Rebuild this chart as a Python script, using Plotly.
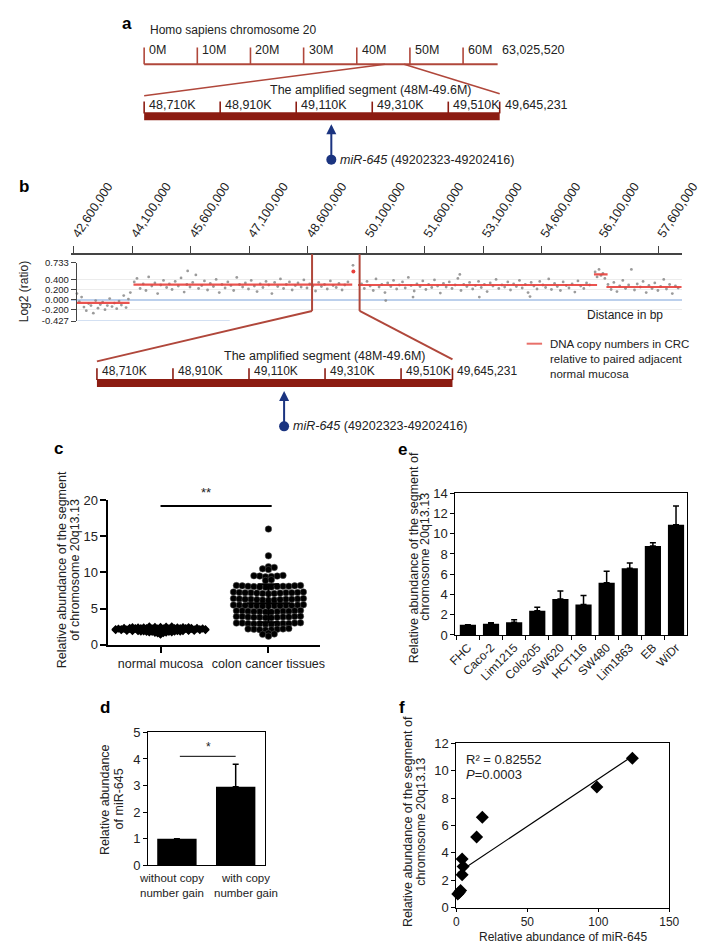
import plotly.graph_objects as go
import numpy as np

W, H = 713, 943
FONT = "Liberation Sans, Arial, Helvetica, sans-serif"
TXT = "#222222"
RULER = "#b0473b"
BAR = "#8c1c12"
NAVY = "#1b3480"

# ---------------- Panel a / b schematic data ----------------
chrom_tick_pos = [0, 10_000_000, 20_000_000, 30_000_000, 40_000_000, 50_000_000, 60_000_000]
chrom_tick_lab = ["0M", "10M", "20M", "30M", "40M", "50M", "60M"]
chrom_len_label = "63,025,520"
chrom_draw_end = 66_500_000          # the drawn ruler runs a little past 60M
chrom_zoom_from = [45_300_000, 48_900_000]

seg_tick_pos = [48_710_000, 48_910_000, 49_110_000, 49_310_000, 49_510_000, 49_645_231]
seg_tick_lab = ["48,710K", "48,910K", "49,110K", "49,310K", "49,510K", "49,645,231"]
seg_title = "The amplified segment (48M-49.6M)"
mir_pos = 49_202_323
mir_label = "<i>miR-645</i> (49202323-49202416)"

# ---------------- Panel b data ----------------
b_tick_mb = [42.6, 44.1, 45.6, 47.1, 48.6, 50.1, 51.6, 53.1, 54.6, 56.1, 57.6]
b_tick_lab = ["42,600,000", "44,100,000", "45,600,000", "47,100,000", "48,600,000",
              "50,100,000", "51,600,000", "53,100,000", "54,600,000", "56,100,000", "57,600,000"]
b_ratio_ticks = [0.733, 0.4, 0.2, 0.0, -0.2, -0.427]
b_ratio_lab = ["0.733", "0.400", "0.200", "0.000", "-0.200", "-0.427"]

b_probe_mb = [
    42.68, 42.74, 42.80, 42.86, 42.92, 42.98, 43.04, 43.10, 43.16, 43.22, 43.28, 43.34,
    43.40, 43.46, 43.52, 43.58, 43.64, 43.70, 43.76, 43.82, 43.88, 43.94, 44.00, 44.05,
    44.15, 44.22, 44.30, 44.38, 44.45, 44.52, 44.60, 44.68, 44.75, 44.83, 44.90, 44.98,
    45.05, 45.12, 45.20, 45.28, 45.35, 45.43, 45.50, 45.52, 45.58, 45.65, 45.73, 45.80,
    45.88, 45.95, 46.03, 46.10, 46.18, 46.25, 46.33, 46.40, 46.48, 46.55, 46.63, 46.70,
    46.78, 46.85, 46.93, 47.00, 47.08, 47.15, 47.23, 47.30, 47.38, 47.45, 47.53, 47.60,
    47.68, 47.75, 47.83, 47.90, 47.98, 48.05, 48.13, 48.20, 48.28, 48.35, 48.43, 48.50,
    48.58, 48.65, 48.73, 48.80, 48.88, 48.95, 49.03, 49.10, 49.18, 49.25, 49.33, 49.40,
    49.48, 49.55, 49.63, 49.76,
    49.98, 50.05, 50.12, 50.20, 50.28, 50.35, 50.43, 50.50, 50.58, 50.60, 50.65, 50.73,
    50.80, 50.88, 50.95, 51.03, 51.10, 51.18, 51.25, 51.30, 51.33, 51.40, 51.48, 51.55,
    51.63, 51.70, 51.78, 51.85, 51.93, 52.00, 52.08, 52.15, 52.23, 52.30, 52.38, 52.45,
    52.50, 52.53, 52.60, 52.68, 52.75, 52.83, 52.90, 52.98, 53.00, 53.05, 53.13, 53.20,
    53.28, 53.35, 53.43, 53.50, 53.58, 53.65, 53.73, 53.80, 53.88, 53.95, 54.03, 54.10,
    54.18, 54.25, 54.30, 54.33, 54.40, 54.48, 54.55, 54.63, 54.70, 54.78, 54.85, 54.93,
    55.00, 55.08, 55.15, 55.23, 55.30, 55.38, 55.45, 55.53, 55.60, 55.68, 55.75, 55.83,
    55.97, 56.02, 56.07, 56.12, 56.17, 56.22,
    56.30, 56.38, 56.45, 56.53, 56.60, 56.68, 56.75, 56.83, 56.90, 56.98, 57.05, 57.13,
    57.20, 57.28, 57.35, 57.43, 57.50, 57.58, 57.65, 57.73, 57.80, 57.88, 57.95, 58.03, 58.10,
]
b_probe_ratio = [
    0.12, -0.04, 0.05, -0.15, -0.22, -0.08, -0.12, -0.27, -0.02, -0.17, -0.10, -0.05,
    -0.20, -0.12, 0.02, -0.14, -0.07, -0.18, -0.03, -0.11, 0.08, -0.16, 0.01, 0.14,
    0.35, 0.42, 0.22, 0.31, 0.18, 0.45, 0.27, 0.33, 0.12, 0.29, 0.38, 0.24,
    0.31, 0.20, 0.36, 0.27, 0.43, 0.15, 0.30, 0.57, 0.25, 0.34, 0.49, 0.22,
    0.28, 0.37, 0.19, 0.32, 0.26, 0.40, 0.14, 0.30, 0.23, 0.35, 0.28, 0.18,
    0.44, 0.30, 0.25, 0.33, 0.21, 0.38, 0.27, 0.16, 0.31, 0.24, 0.36, 0.29,
    0.12, 0.34, 0.26, 0.41, 0.22, 0.30, 0.35, 0.19, 0.28, 0.33, 0.25, 0.39,
    0.23, 0.31, 0.27, 0.17, 0.34, 0.26, 0.30, 0.21, 0.37, 0.28, 0.24, 0.32,
    0.19, 0.29, 0.35, 0.68,
    0.31, 0.22, 0.36, 0.27, 0.18, 0.41, 0.25, 0.30, 0.14, -0.02, 0.33, 0.26,
    0.38, 0.21, 0.29, 0.35, 0.23, 0.44, 0.28, 0.05, 0.17, 0.31, 0.26, 0.37,
    0.20, 0.30, 0.24, 0.39, 0.27, 0.13, 0.32, 0.25, 0.35, 0.22, 0.29, 0.42,
    0.50, 0.18, 0.30, 0.26, 0.34, 0.21, 0.28, 0.36, 0.05, 0.24, 0.30, 0.16,
    0.33, 0.27, 0.40, 0.22, 0.29, 0.25, 0.35, 0.19, 0.31, 0.26, 0.38, 0.23,
    0.30, 0.14, 0.06, 0.34, 0.27, 0.21, 0.36, 0.29, 0.24, 0.41, 0.20, 0.32,
    0.26, 0.18, 0.35, 0.28, 0.23, 0.31, 0.15, 0.37, 0.27, 0.22, 0.33, 0.29,
    0.55, 0.45, 0.60, 0.48, 0.52, 0.42,
    0.30, 0.20, 0.34, 0.16, 0.27, 0.38, 0.22, 0.29, 0.60, 0.19, 0.31, 0.25,
    0.36, 0.14, 0.28, 0.22, 0.33, 0.18, 0.26, 0.40, 0.21, 0.30, 0.12, 0.27, 0.23,
]
b_seg_start_mb = [42.67, 44.13, 49.89, 55.94, 56.26]
b_seg_end_mb = [44.03, 49.74, 56.02, 56.29, 58.19]
b_seg_ratio = [-0.065, 0.297, 0.29, 0.50, 0.25]
b_red_mb = [49.77]
b_red_ratio = [0.56]
b_zoom_mb = [48.71, 49.93]
b_legend = "DNA copy numbers in CRC<br>relative to paired adjacent<br>normal mucosa"

# ---------------- Panel c data ----------------
c_groups = ["normal mucosa", "colon cancer tissues"]
c_normal = [
    2.31, 2.05, 1.92, 2.18, 2.44, 1.87, 2.12, 2.27, 1.98, 2.36,
    1.81, 2.09, 2.22, 1.95, 2.41, 2.14, 1.76, 2.03, 2.29, 1.89,
    2.17, 2.47, 1.94, 2.08, 2.33, 1.84, 2.21, 2.01, 1.72, 2.26,
    2.11, 1.97, 2.38, 2.15, 1.86, 2.24, 2.06, 2.52, 1.91, 2.19,
    2.34, 1.79, 2.02, 2.28, 1.96, 2.13, 2.43, 1.83, 2.07, 2.23,
    1.68, 2.16, 2.32, 1.93, 2.04, 2.39, 1.88, 2.25, 2.10, 1.99,
    2.55, 1.82, 2.20, 2.35, 1.95, 2.12, 1.74, 2.27, 2.03, 2.46,
    1.90, 2.17, 2.30, 1.85, 2.08, 2.22, 1.97, 2.40, 1.63, 2.14,
    2.28, 2.01, 1.89, 2.36, 2.19, 1.78, 2.06, 2.24, 1.93, 2.49,
    2.11, 1.58, 2.33, 2.05, 1.87, 2.21, 2.42, 1.98, 2.15, 1.71,
    2.26, 2.09, 1.50, 2.37, 1.92, 2.18, 1.42, 2.02, 2.31, 1.66,
]
c_cancer = [
    16.0, 12.3,
    10.7, 10.5, 10.8, 10.4,
    9.5, 9.6, 9.4, 9.5, 9.55, 9.45,
    8.9, 9.0,
    8.1, 8.0, 8.2, 8.05, 8.15, 8.1, 7.95, 8.2, 8.05, 8.1, 8.0, 8.15,
    7.2, 7.1, 7.3, 7.15, 7.25, 7.2, 7.05, 7.3, 7.1, 7.2, 7.15, 7.25, 7.2,
    6.3, 6.2, 6.4, 6.25, 6.35, 6.3, 6.15, 6.4, 6.3, 6.2, 6.35, 6.25, 6.3,
    5.45, 5.4, 5.5, 5.35, 5.55, 5.45, 5.4, 5.5, 5.45, 5.35, 5.5, 5.4, 5.45,
    4.65, 4.6, 4.7, 4.55, 4.75, 4.65, 4.6, 4.7, 4.65, 4.55, 4.7, 4.6,
    3.85, 3.8, 3.9, 3.75, 3.95, 3.85, 3.8, 3.9, 3.85, 3.75, 3.9, 3.8,
    2.95, 2.9, 3.0, 2.85, 3.05, 2.95, 2.9, 3.0, 2.95, 2.85, 3.0, 2.9,
    2.15, 2.1, 2.2, 2.05, 2.25, 2.15, 2.1, 2.2,
    1.6, 1.5, 1.45, 1.2,
]
c_sig_y = 19.2

# ---------------- Panel d data ----------------
d_groups = ["without copy<br>number gain", "with copy<br>number gain"]
d_values = [1.0, 2.95]
d_err = [0.0, 0.85]
d_sig_y = 4.1

# ---------------- Panel e data ----------------
e_cells = ["FHC", "Caco-2", "Lim1215", "Colo205", "SW620", "HCT116", "SW480", "Lim1863", "EB", "WiDr"]
e_values = [1.0, 1.1, 1.25, 2.4, 3.55, 3.0, 5.15, 6.6, 8.8, 10.9]
e_err = [0.0, 0.12, 0.25, 0.35, 0.8, 0.9, 1.15, 0.5, 0.3, 1.85]

# ---------------- Panel f data ----------------
f_mir = [1.0, 2.0, 3.0, 4.1, 4.1, 4.8, 14.3, 18.3, 99.0, 124.0]
f_seg = e_values
f_r2_text = "R² = 0.82552"
f_p_text = "<i>P</i>=0.0003"


# ---------------- helpers ----------------
def px(x):
    return x / W


def py(y):
    return 1 - y / H


def make_map(v1, p1, v2, p2):
    s = (p2 - p1) / (v2 - v1)
    return lambda v: p1 + (v - v1) * s


def axis_range(v1, p1, v2, p2, d0, d1):
    s = (p2 - p1) / (v2 - v1)
    return [v1 + (d0 - p1) / s, v1 + (d1 - p1) / s]


def vsegs(xs, y0, y1):
    X, Y = [], []
    for x in xs:
        X += [x, x, None]
        Y += [y0, y1, None]
    return X, Y


def swarm_offsets(values, groups_of, spacing):
    offs = [0.0] * len(values)
    for idx in groups_of:
        idx = sorted(idx, key=lambda i: values[i])
        n = len(idx)
        slots = [(k - (n - 1) / 2) * spacing for k in range(n)]
        slots = sorted(slots, key=lambda s: abs(s))
        for j, i in enumerate(idx):
            offs[i] = slots[j]
    return offs


def gap_groups(values, gap):
    order = sorted(range(len(values)), key=lambda i: values[i])
    groups, cur, start = [], [], None
    for i in order:
        if start is None or values[i] - start > gap:
            if cur:
                groups.append(cur)
            cur, start = [i], values[i]
        else:
            cur.append(i)
    if cur:
        groups.append(cur)
    return groups


def bin_groups(values, width):
    d = {}
    for i, v in enumerate(values):
        d.setdefault(round(v / width), []).append(i)
    return list(d.values())


fig = go.Figure()
ann = []
shapes = []

# ============ Panel a ============
chrom_px = make_map(0, 133, 60_000_000, 464)
segA_px = make_map(seg_tick_pos[0], 133, seg_tick_pos[-1], 502)
A_LINE_Y, A_TICK_TOP, A_LAB_Y = 50, 33, 36

fig.add_trace(go.Scatter(x=[0, chrom_draw_end], y=[A_LINE_Y, A_LINE_Y], xaxis="x", yaxis="y",
                         mode="lines", line=dict(color=RULER, width=2), hoverinfo="skip"))
tx, ty = vsegs(chrom_tick_pos, A_LINE_Y, A_TICK_TOP)
fig.add_trace(go.Scatter(x=tx, y=ty, xaxis="x", yaxis="y", mode="lines",
                         line=dict(color=RULER, width=1.6), hoverinfo="skip"))
for p, lab in zip(chrom_tick_pos, chrom_tick_lab):
    ann.append(dict(x=p, y=A_LAB_Y, xref="x", yref="y", text=lab, showarrow=False,
                    xanchor="left", yanchor="middle", xshift=3, font=dict(size=12.5, color=TXT)))
ann.append(dict(x=chrom_draw_end, y=A_LAB_Y, xref="x", yref="y", text=chrom_len_label,
                showarrow=False, xanchor="left", yanchor="middle", xshift=2,
                font=dict(size=12.5, color=TXT)))
ann.append(dict(x=px(137), y=py(15), xref="paper", yref="paper", text="Homo sapiens chromosome 20",
                showarrow=False, xanchor="left", yanchor="middle", font=dict(size=12, color=TXT)))


def draw_segment(xa, dy, lab_size, title_x):
    bar_y, tick_top, tick_bot, lab_y = 103 + dy, 88 + dy, 100 + dy, 91 + dy
    fig.add_trace(go.Scatter(x=[seg_tick_pos[0], seg_tick_pos[-1]], y=[bar_y, bar_y], xaxis=xa,
                             yaxis="y", mode="lines", line=dict(color=BAR, width=8), hoverinfo="skip"))
    X, Y = vsegs(seg_tick_pos, tick_bot, tick_top)
    fig.add_trace(go.Scatter(x=X, y=Y, xaxis=xa, yaxis="y", mode="lines",
                             line=dict(color=BAR, width=1.6), hoverinfo="skip"))
    for p, lab in zip(seg_tick_pos, seg_tick_lab):
        ann.append(dict(x=p, y=lab_y, xref=xa, yref="y", text=lab, showarrow=False,
                        xanchor="left", yanchor="middle", xshift=3, font=dict(size=lab_size, color=TXT)))
    ann.append(dict(x=px(title_x), y=py(76 + dy), xref="paper", yref="paper", text=seg_title,
                    showarrow=False, xanchor="center", yanchor="middle", font=dict(size=12.5, color=TXT)))
    ann.append(dict(x=mir_pos, y=111 + dy, xref=xa, yref="y", ax=mir_pos, ay=146 + dy,
                    axref=xa, ayref="y", text="", showarrow=True, arrowhead=2, arrowsize=1,
                    arrowwidth=2, arrowcolor=NAVY, standoff=0, startstandoff=0))
    fig.add_trace(go.Scatter(x=[mir_pos], y=[147 + dy], xaxis=xa, yaxis="y", mode="markers",
                             marker=dict(color=NAVY, size=10), hoverinfo="skip"))
    ann.append(dict(x=mir_pos, y=147 + dy, xref=xa, yref="y", text=mir_label, showarrow=False,
                    xanchor="left", yanchor="middle", xshift=7, font=dict(size=12.5, color=TXT)))


draw_segment("x2", 0, 12.5, 368)

for zf, (ex, ey) in zip(chrom_zoom_from, [(segA_px(seg_tick_pos[0]), 82), (segA_px(seg_tick_pos[-1]), 80)]):
    shapes.append(dict(type="line", xref="paper", yref="paper", x0=px(chrom_px(zf)), y0=py(A_LINE_Y),
                       x1=px(ex), y1=py(ey), line=dict(color=RULER, width=1.5)))

# ============ Panel b ============
B_DY = 271
segB_px = make_map(seg_tick_pos[0], 84, seg_tick_pos[-1], 453)
b_px = make_map(42.6, 60, 44.1, 120.7)
B_AXIS_Y, B_TOP, B_BOT = 243, 251.7, 311
B_X0, B_X1, B_YAX = 57, 691, 62

fig.add_trace(go.Scatter(x=b_probe_mb, y=b_probe_ratio, xaxis="x4", yaxis="y4", mode="markers",
                         marker=dict(color="#8a8a8a", size=2.8, opacity=0.85), hoverinfo="skip"))
sx, sy = [], []
for s0, s1, v in zip(b_seg_start_mb, b_seg_end_mb, b_seg_ratio):
    sx += [s0, s1, None]
    sy += [v, v, None]
fig.add_trace(go.Scatter(x=sx, y=sy, xaxis="x4", yaxis="y4", mode="lines",
                         line=dict(color="rgba(232,64,60,0.9)", width=2.2), hoverinfo="skip"))
fig.add_trace(go.Scatter(x=b_red_mb, y=b_red_ratio, xaxis="x4", yaxis="y4", mode="markers",
                         marker=dict(color="#e8403c", size=4), hoverinfo="skip"))
shapes.append(dict(type="line", xref="x4", yref="y4", x0=42.7, x1=46.6, y0=-0.427, y1=-0.427,
                   line=dict(color="#c5d6ee", width=1.5)))
for zm, (ex, ey) in zip(b_zoom_mb, [(segB_px(seg_tick_pos[0]), 82 + B_DY - 1),
                                    (segB_px(seg_tick_pos[-1]), 80 + B_DY - 1)]):
    shapes.append(dict(type="line", xref="x4", yref="paper", x0=zm, x1=zm, y0=py(B_AXIS_Y),
                       y1=py(300.7), line=dict(color=RULER, width=2)))
    shapes.append(dict(type="line", xref="paper", yref="paper", x0=px(b_px(zm)), y0=py(300.7),
                       x1=px(ex), y1=py(ey), line=dict(color=RULER, width=2)))

draw_segment("x3", B_DY, 12, 320)

shapes.append(dict(type="line", xref="paper", yref="paper", x0=px(530), x1=px(546),
                   y0=py(334), y1=py(334), line=dict(color="#e8706a", width=2)))
ann.append(dict(x=px(552), y=py(349.5), xref="paper", yref="paper", text=b_legend, showarrow=False,
                xanchor="left", yanchor="middle", align="left", font=dict(size=11.5, color=TXT)))
ann.append(dict(x=px(674), y=py(304.5), xref="paper", yref="paper", text="Distance in bp",
                showarrow=False, xanchor="right", yanchor="middle", font=dict(size=12, color=TXT)))
ann.append(dict(x=px(8), y=py(281), xref="paper", yref="paper", text="Log2 (ratio)", textangle=-90,
                showarrow=False, xanchor="center", yanchor="middle", font=dict(size=12, color=TXT)))

# ============ Panel c ============
norm_off = swarm_offsets(c_normal, bin_groups(c_normal, 0.1), 0.052)
canc_off = swarm_offsets(c_cancer, gap_groups(c_cancer, 0.4), 0.054)
fig.add_trace(go.Scatter(x=[0 + o for o in norm_off], y=c_normal, xaxis="x5", yaxis="y5",
                         mode="markers", marker=dict(symbol="diamond", color="black", size=6.5),
                         hoverinfo="skip", cliponaxis=False))
fig.add_trace(go.Scatter(x=[1 + o for o in canc_off], y=c_cancer, xaxis="x5", yaxis="y5",
                         mode="markers", marker=dict(symbol="circle", color="black", size=6.5,
                                                     line=dict(color="#555", width=0.5)),
                         hoverinfo="skip", cliponaxis=False))
mx, my = [], []
for gi, vals in enumerate([c_normal, c_cancer]):
    m, sd = float(np.mean(vals)), float(np.std(vals, ddof=1))
    mx += [gi - 0.2, gi + 0.2, None, gi, gi, None, gi - 0.1, gi + 0.1, None, gi - 0.1, gi + 0.1, None]
    my += [m, m, None, m - sd, m + sd, None, m + sd, m + sd, None, m - sd, m - sd, None]
fig.add_trace(go.Scatter(x=mx, y=my, xaxis="x5", yaxis="y5", mode="lines",
                         line=dict(color="black", width=2), hoverinfo="skip"))
fig.add_trace(go.Scatter(x=[0, 1.03], y=[c_sig_y, c_sig_y], xaxis="x5", yaxis="y5", mode="lines",
                         line=dict(color="black", width=2), hoverinfo="skip", cliponaxis=False))
ann.append(dict(x=0.42, y=c_sig_y, xref="x5", yref="y5", text="**", showarrow=False, yshift=13,
                font=dict(size=13, color=TXT)))
for xx, t in [(48, "Relative abundance of the segment"), (61, "of chromosome 20q13.13")]:
    ann.append(dict(x=px(xx), y=py(564), xref="paper", yref="paper", text=t, textangle=-90,
                    showarrow=False, xanchor="center", yanchor="middle", font=dict(size=12.5, color=TXT)))

# ============ Panel d ============
fig.add_trace(go.Bar(x=[0, 1], y=d_values, xaxis="x6", yaxis="y6", width=0.67,
                     marker=dict(color="black", line=dict(width=0)),
                     error_y=dict(type="data", array=d_err, arrayminus=[0, 0], symmetric=False,
                                  color="black", thickness=1.5, width=3), hoverinfo="skip"))
fig.add_trace(go.Scatter(x=[0.05, 1.0], y=[d_sig_y, d_sig_y], xaxis="x6", yaxis="y6", mode="lines",
                         line=dict(color="black", width=1), hoverinfo="skip"))
ann.append(dict(x=0.54, y=d_sig_y, xref="x6", yref="y6", text="*", showarrow=False, yshift=9,
                font=dict(size=12, color=TXT)))
for xx, t in [(93, "Relative abundance"), (107, "of miR-645")]:
    ann.append(dict(x=px(xx), y=py(797), xref="paper", yref="paper", text=t, textangle=-90,
                    showarrow=False, xanchor="center", yanchor="middle", font=dict(size=12.5, color=TXT)))
for xx, t in zip([161, 239], d_groups):
    ann.append(dict(x=px(xx), y=py(885), xref="paper", yref="paper", text=t, showarrow=False,
                    xanchor="center", yanchor="middle", align="center",
                    font=dict(size=11.5, color=TXT)))

# ============ Panel e ============
fig.add_trace(go.Bar(x=e_cells, y=e_values, xaxis="x7", yaxis="y7", width=0.7,
                     marker=dict(color="black", line=dict(width=0)),
                     error_y=dict(type="data", array=e_err, arrayminus=[0] * len(e_err), symmetric=False,
                                  color="black", thickness=1.5, width=3), hoverinfo="skip"))
for xx, t in [(413, "Relative abundance of the segment of"), (425, "chromosome 20q13.13")]:
    ann.append(dict(x=px(xx), y=py(551), xref="paper", yref="paper", text=t, textangle=-90,
                    showarrow=False, xanchor="center", yanchor="middle", font=dict(size=12.5, color=TXT)))

# ============ Panel f ============
slope, intercept = np.polyfit(f_mir, f_seg, 1)
fx = [min(f_mir), max(f_mir)]
fig.add_trace(go.Scatter(x=fx, y=[slope * v + intercept for v in fx], xaxis="x8", yaxis="y8",
                         mode="lines", line=dict(color="black", width=1.2), hoverinfo="skip"))
fig.add_trace(go.Scatter(x=f_mir, y=f_seg, xaxis="x8", yaxis="y8", mode="markers",
                         marker=dict(symbol="diamond", color="black", size=10), hoverinfo="skip",
                         cliponaxis=False))
ann.append(dict(x=px(465), y=py(757), xref="paper", yref="paper", text=f_r2_text, showarrow=False,
                xanchor="left", yanchor="middle", font=dict(size=13, color=TXT)))
ann.append(dict(x=px(465), y=py(772), xref="paper", yref="paper", text=f_p_text, showarrow=False,
                xanchor="left", yanchor="middle", font=dict(size=13, color=TXT)))
ann.append(dict(x=px(568), y=py(936.5), xref="paper", yref="paper", text="Relative abundance of miR-645",
                showarrow=False, xanchor="center", yanchor="middle", font=dict(size=12, color=TXT)))
for xx, t in [(407, "Relative abundance of the segment of"), (420, "chromosome 20q13.13")]:
    ann.append(dict(x=px(xx), y=py(820), xref="paper", yref="paper", text=t, textangle=-90,
                    showarrow=False, xanchor="center", yanchor="middle", font=dict(size=12.5, color=TXT)))

for (xx, yy), t in zip([(115, 9), (8, 174), (44, 440), (92, 704), (401, 442), (401, 704)],
                       ["a", "b", "c", "d", "e", "f"]):
    ann.append(dict(x=px(xx), y=py(yy), xref="paper", yref="paper", text="<b>%s</b>" % t,
                    showarrow=False, xanchor="center", yanchor="middle",
                    font=dict(size=17, color="black")))

# ---------------- axes ----------------
hidden = dict(visible=False, fixedrange=True)
boxax = dict(showline=True, linecolor="black", linewidth=1, mirror=True, showgrid=False,
             zeroline=False, ticks="outside", ticklen=4, tickcolor="black",
             tickfont=dict(size=13, color=TXT), fixedrange=True)

layout = dict(
    width=W, height=H, margin=dict(l=0, r=0, t=0, b=0), autosize=False,
    paper_bgcolor="white", plot_bgcolor="rgba(0,0,0,0)", showlegend=False, hovermode=False,
    font=dict(family=FONT, size=12, color=TXT),
    xaxis=dict(domain=[0, 1], range=axis_range(0, 133, 60_000_000, 464, 0, W), anchor="y", **hidden),
    yaxis=dict(domain=[0, 1], range=[H, 0], anchor="x", **hidden),
    xaxis2=dict(range=axis_range(seg_tick_pos[0], 133, seg_tick_pos[-1], 502, 0, W),
                anchor="y", overlaying="x", **hidden),
    xaxis3=dict(range=axis_range(seg_tick_pos[0], 84, seg_tick_pos[-1], 453, 0, W),
                anchor="y", overlaying="x", **hidden),
    xaxis4=dict(domain=[px(B_X0), px(B_X1)], range=axis_range(42.6, 60, 44.1, 120.7, B_X0, B_X1),
                anchor="free", position=py(B_AXIS_Y), side="top", showline=True, linecolor="#444",
                linewidth=1.5, ticks="outside", ticklen=7, tickcolor="#444", tickwidth=1.2,
                tickvals=b_tick_mb, ticktext=b_tick_lab, tickangle=-57,
                tickfont=dict(size=12.5, color=TXT), showgrid=False, zeroline=False, fixedrange=True),
    yaxis4=dict(domain=[py(B_BOT), py(B_TOP)], range=[-0.427, 0.733], anchor="free",
                position=px(B_YAX), showline=True, linecolor="#444", linewidth=1.2,
                ticks="outside", ticklen=5, tickcolor="#444", tickvals=b_ratio_ticks,
                ticktext=b_ratio_lab, tickfont=dict(size=9.5, color=TXT), showgrid=True,
                gridcolor="#ececec", gridwidth=1, zeroline=True, zerolinecolor="#bcd0ec",
                zerolinewidth=1.5, fixedrange=True),
    xaxis5=dict(domain=[px(96), px(315)], range=axis_range(0, 150, 1, 262, 96, 315), anchor="y5",
                tickvals=[0, 1], ticktext=c_groups, showline=True, linecolor="black", linewidth=2,
                ticks="outside", ticklen=6, tickwidth=2, tickcolor="black", showgrid=False,
                zeroline=False, tickfont=dict(size=12.5, color=TXT), fixedrange=True),
    yaxis5=dict(domain=[py(640), py(493)], range=[0, 20], anchor="x5", tickvals=[0, 5, 10, 15, 20],
                showline=True, linecolor="black", linewidth=2, ticks="outside", ticklen=6,
                tickwidth=2, tickcolor="black", showgrid=False, zeroline=False,
                tickfont=dict(size=13, color=TXT), fixedrange=True),
    xaxis6=dict(domain=[px(137), px(258)], range=axis_range(0, 167, 1, 228, 137, 258), anchor="y6",
                tickvals=[0, 1], showticklabels=False, **{**boxax, "ticks": ""}),
    yaxis6=dict(domain=[py(864), py(729)], range=[0, 5], anchor="x6", dtick=1, **boxax),
    xaxis7=dict(domain=[px(456), px(696)], range=axis_range(0, 469, 1, 493, 456, 696), anchor="y7",
                type="category", categoryorder="array", categoryarray=e_cells, tickson="boundaries",
                tickangle=-45, **{**boxax, "tickfont": dict(size=12, color=TXT)}),
    yaxis7=dict(domain=[py(630), py(486)], range=[0, 14], anchor="x7", dtick=2, **boxax),
    xaxis8=dict(domain=[px(457), px(678)], range=[0, 150], anchor="y8", dtick=50,
                **{**boxax, "ticklen": 3, "tickfont": dict(size=12, color=TXT)}),
    yaxis8=dict(domain=[py(907), py(740)], range=[0, 12], anchor="x8", dtick=2, **boxax),
    annotations=ann,
    shapes=shapes,
)
fig.update_layout(**layout)
fig.write_html("out.html")
